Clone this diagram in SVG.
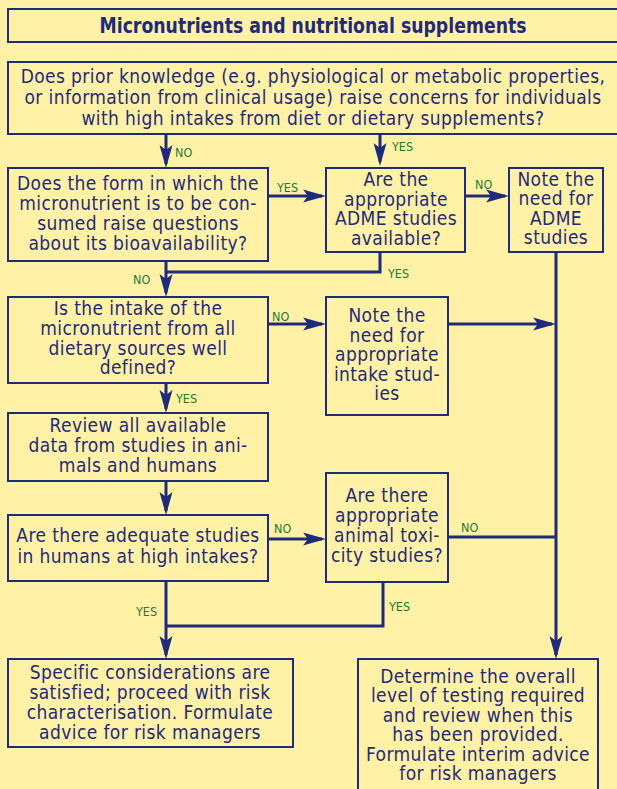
<svg xmlns="http://www.w3.org/2000/svg" width="617" height="789" viewBox="0 0 617 789">
  <style>
    .box { fill: none; stroke: #1f2a7a; stroke-width: 2; }
    .t { font-family: "DejaVu Sans Condensed", "Liberation Sans Narrow", "Liberation Sans", sans-serif; font-size: 19px; letter-spacing: 0.4px; fill: #1f2a7a; text-anchor: middle; }
    .title { font-family: "DejaVu Sans Condensed", "Liberation Sans Narrow", "Liberation Sans", sans-serif; font-size: 22px; font-weight: bold; fill: #1f2a7a; text-anchor: middle; }
    .lab { font-family: "DejaVu Sans Condensed", "Liberation Sans Narrow", "Liberation Sans", sans-serif; font-size: 12.5px; fill: #1d7a3a; }
    .c { fill: none; stroke: #1f2a7a; stroke-width: 3; }
  </style>
  <defs>
    <marker id="arr" viewBox="0 0 24 14" refX="19" refY="7" markerWidth="24" markerHeight="14" markerUnits="userSpaceOnUse" orient="auto">
      <path d="M0,0.5 L23,7 L0,13.5 L5,7 Z" fill="#1f2a7a"/>
    </marker>
  </defs>
  <rect width="617" height="789" fill="#fff1a6"/>

  <g id="title">
    <rect class="box" x="8" y="9" width="612" height="33"/>
    <text class="title" x="313" y="33" textLength="427" lengthAdjust="spacingAndGlyphs">Micronutrients and nutritional supplements</text>
  </g>

  <g id="q-prior">
    <rect class="box" x="8" y="62" width="612" height="72"/>
    <text class="t" x="313" y="83">Does prior knowledge (e.g. physiological or metabolic properties,</text>
    <text class="t" x="313" y="104">or information from clinical usage) raise concerns for individuals</text>
    <text class="t" x="313" y="125">with high intakes from diet or dietary supplements?</text>
  </g>

  <g id="q-form">
    <rect class="box" x="8" y="168" width="260" height="93"/>
    <text class="t" x="138" y="190">Does the form in which the</text>
    <text class="t" x="138" y="210">micronutrient is to be con-</text>
    <text class="t" x="138" y="230">sumed raise questions</text>
    <text class="t" x="138" y="250">about its bioavailability?</text>
  </g>

  <g id="q-adme">
    <rect class="box" x="326" y="168" width="139" height="84"/>
    <text class="t" x="396" y="186">Are the</text>
    <text class="t" x="396" y="206">appropriate</text>
    <text class="t" x="396" y="225">ADME studies</text>
    <text class="t" x="396" y="245">available?</text>
  </g>

  <g id="note-adme">
    <rect class="box" x="509" y="168" width="94" height="84"/>
    <text class="t" x="556" y="186">Note the</text>
    <text class="t" x="556" y="205">need for</text>
    <text class="t" x="556" y="225">ADME</text>
    <text class="t" x="556" y="244">studies</text>
  </g>

  <g id="q-intake">
    <rect class="box" x="8" y="297" width="260" height="86"/>
    <text class="t" x="138" y="315">Is the intake of the</text>
    <text class="t" x="138" y="335">micronutrient from all</text>
    <text class="t" x="138" y="355">dietary sources well</text>
    <text class="t" x="138" y="374">defined?</text>
  </g>

  <g id="note-intake">
    <rect class="box" x="326" y="297" width="122" height="118"/>
    <text class="t" x="387" y="322">Note the</text>
    <text class="t" x="387" y="342">need for</text>
    <text class="t" x="387" y="361">appropriate</text>
    <text class="t" x="387" y="381">intake stud-</text>
    <text class="t" x="387" y="400">ies</text>
  </g>

  <g id="review">
    <rect class="box" x="8" y="413" width="260" height="68"/>
    <text class="t" x="138" y="432">Review all available</text>
    <text class="t" x="138" y="452">data from studies in ani-</text>
    <text class="t" x="138" y="472">mals and humans</text>
  </g>

  <g id="q-humans">
    <rect class="box" x="8" y="515" width="260" height="66"/>
    <text class="t" x="138" y="542">Are there adequate studies</text>
    <text class="t" x="138" y="563">in humans at high intakes?</text>
  </g>

  <g id="q-animal">
    <rect class="box" x="326" y="473" width="122" height="109"/>
    <text class="t" x="387" y="502">Are there</text>
    <text class="t" x="387" y="522">appropriate</text>
    <text class="t" x="387" y="542">animal toxi-</text>
    <text class="t" x="387" y="562">city studies?</text>
  </g>

  <g id="specific">
    <rect class="box" x="8" y="659" width="285" height="88"/>
    <text class="t" x="150" y="679">Specific considerations are</text>
    <text class="t" x="150" y="699">satisfied; proceed with risk</text>
    <text class="t" x="150" y="719">characterisation. Formulate</text>
    <text class="t" x="150" y="739">advice for risk managers</text>
  </g>

  <g id="determine">
    <rect class="box" x="358" y="659" width="240" height="140"/>
    <text class="t" x="478" y="683">Determine the overall</text>
    <text class="t" x="478" y="702">level of testing required</text>
    <text class="t" x="478" y="722">and review when this</text>
    <text class="t" x="478" y="741">has been provided.</text>
    <text class="t" x="478" y="761">Formulate interim advice</text>
    <text class="t" x="478" y="780">for risk managers</text>
  </g>

  <g id="connectors">
    <path class="c" d="M166,134 V164" marker-end="url(#arr)"/>
    <path class="c" d="M380,134 V162" marker-end="url(#arr)"/>
    <path class="c" d="M268,196 H322" marker-end="url(#arr)"/>
    <path class="c" d="M465,196 H505" marker-end="url(#arr)"/>
    <path class="c" d="M166,261 V293" marker-end="url(#arr)"/>
    <path class="c" d="M380,252 V272 H166"/>
    <path class="c" d="M268,324 H322" marker-end="url(#arr)"/>
    <path class="c" d="M448,324 H552" marker-end="url(#arr)"/>
    <path class="c" d="M166,383 V409" marker-end="url(#arr)"/>
    <path class="c" d="M166,481 V511" marker-end="url(#arr)"/>
    <path class="c" d="M268,539 H322" marker-end="url(#arr)"/>
    <path class="c" d="M448,537 H556"/>
    <path class="c" d="M556,252 V655" marker-end="url(#arr)"/>
    <path class="c" d="M166,581 V655" marker-end="url(#arr)"/>
    <path class="c" d="M383,582 V626 H166"/>
    <text class="lab" x="175" y="157">NO</text>
    <text class="lab" x="392" y="151">YES</text>
    <text class="lab" x="277" y="192">YES</text>
    <text class="lab" x="475" y="189">NO</text>
    <text class="lab" x="388" y="278">YES</text>
    <text class="lab" x="133" y="284">NO</text>
    <text class="lab" x="272" y="321">NO</text>
    <text class="lab" x="176" y="403">YES</text>
    <text class="lab" x="274" y="533">NO</text>
    <text class="lab" x="461" y="532">NO</text>
    <text class="lab" x="136" y="616">YES</text>
    <text class="lab" x="389" y="611">YES</text>
  </g>
</svg>
